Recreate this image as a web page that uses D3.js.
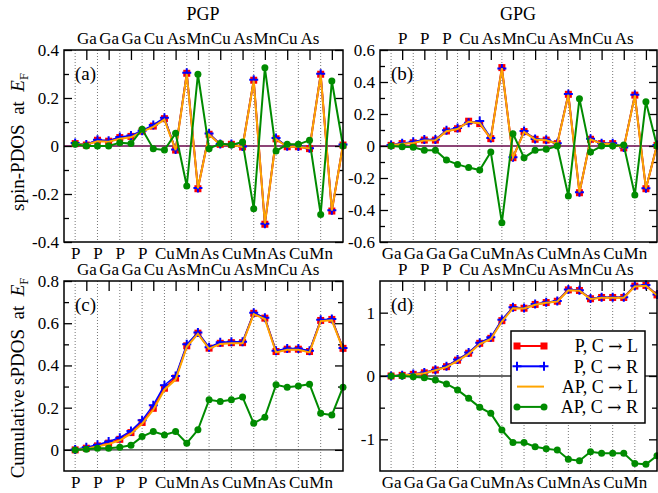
<!DOCTYPE html>
<html>
<head>
<meta charset="utf-8">
<script src="https://cdn.jsdelivr.net/npm/d3@7"></script>
<style>
  body { margin: 0; background: #fff; }
  svg { display: block; font-family: "Liberation Serif", "Times New Roman", serif; }
</style>
</head>
<body>
<div id="chart"></div>
<script>
// site labels along the chain: even sites on the bottom axis, odd sites on the top axis
const pgpEven = ["P", "P", "P", "P", "Cu", "Mn", "As", "Cu", "Mn", "As", "Cu", "Mn"];
const pgpOdd = ["Ga", "Ga", "Ga", "Cu", "As", "Mn", "Cu", "As", "Mn", "Cu", "As"];
const gpgEven = ["Ga", "Ga", "Ga", "Ga", "Cu", "Mn", "As", "Cu", "Mn", "As", "Cu", "Mn"];
const gpgOdd = ["P", "P", "P", "Cu", "As", "Mn", "Cu", "As", "Mn", "Cu", "As"];

// legend: [prefix, target]
const seriesNames = [["P, C ", " L"], ["P, C ", " R"], ["AP, C ", " L"], ["AP, C ", " R"]];

// (a) PGP spin-PDOS
const aPL = [0.01, 0.004, 0.024, 0.02, 0.035, 0.04, 0.062, 0.083, 0.114, -0.017, 0.303, -0.178, 0.049, 0.007, 0.007, -0.004, 0.274, -0.326, 0.03, -0.003, -0.003, -0.011, 0.299, -0.271, 0.004];
const aPR = [0.012, 0.006, 0.026, 0.022, 0.038, 0.044, 0.064, 0.088, 0.118, -0.015, 0.305, -0.175, 0.052, 0.008, 0.008, -0.002, 0.276, -0.324, 0.033, -0.001, -0.002, -0.009, 0.301, -0.268, 0.006];
const aAPL = [0.008, 0.005, 0.02, 0.018, 0.03, 0.036, 0.06, 0.08, 0.11, -0.017, 0.3, -0.176, 0.047, 0.006, 0.006, -0.004, 0.272, -0.323, 0.028, -0.003, -0.003, -0.01, 0.297, -0.269, 0.004];
const aAPR = [0.007, 0.0, 0.0, 0.0, 0.014, 0.01, 0.07, -0.011, -0.017, 0.053, -0.167, 0.299, -0.011, 0.01, 0.004, 0.017, -0.261, 0.326, -0.021, 0.007, 0.007, 0.024, -0.285, 0.271, 0.0];

// (b) GPG spin-PDOS
const bPL = [0.004, 0.015, 0.02, 0.037, 0.037, 0.094, 0.108, 0.155, 0.14, 0.046, 0.49, -0.073, 0.09, 0.042, 0.037, 0.015, 0.323, -0.292, 0.042, 0.015, 0.015, -0.012, 0.318, -0.267, 0.004];
const bPR = [0.006, 0.017, 0.026, 0.04, 0.04, 0.098, 0.112, 0.145, 0.156, 0.05, 0.485, -0.07, 0.093, 0.044, 0.039, 0.017, 0.325, -0.289, 0.045, 0.017, 0.017, -0.01, 0.32, -0.264, 0.006];
const bAPL = [0.003, 0.014, 0.019, 0.035, 0.036, 0.092, 0.106, 0.152, 0.142, 0.045, 0.487, -0.071, 0.088, 0.041, 0.036, 0.014, 0.32, -0.29, 0.041, 0.014, 0.014, -0.012, 0.316, -0.265, 0.004];
const bAPR = [0.0, -0.004, -0.008, -0.027, -0.027, -0.088, -0.115, -0.135, -0.15, -0.038, -0.479, 0.077, -0.073, -0.027, -0.021, 0.0, -0.313, 0.296, -0.038, 0.0, 0.0, 0.006, -0.306, 0.277, 0.0];

// (c) PGP cumulative
const cPL = [0, 0.008, 0.019, 0.032, 0.05, 0.082, 0.13, 0.197, 0.292, 0.34, 0.493, 0.553, 0.482, 0.505, 0.508, 0.508, 0.647, 0.624, 0.466, 0.477, 0.477, 0.466, 0.613, 0.618, 0.481];
const cPR = [0.002, 0.012, 0.024, 0.04, 0.058, 0.09, 0.14, 0.212, 0.306, 0.35, 0.5, 0.556, 0.486, 0.51, 0.512, 0.512, 0.65, 0.626, 0.47, 0.48, 0.48, 0.47, 0.616, 0.62, 0.483];
const cAPL = [0, 0.006, 0.016, 0.028, 0.045, 0.077, 0.124, 0.19, 0.285, 0.333, 0.488, 0.55, 0.479, 0.502, 0.505, 0.505, 0.643, 0.62, 0.462, 0.474, 0.474, 0.462, 0.61, 0.614, 0.478];
const cAPR = [0, 0.003, 0.008, 0.008, 0.013, 0.022, 0.063, 0.087, 0.071, 0.087, 0.032, 0.095, 0.237, 0.229, 0.237, 0.25, 0.126, 0.155, 0.308, 0.297, 0.303, 0.311, 0.173, 0.165, 0.297];

// (d) GPG cumulative
const dPL = [0, 0.01, 0.026, 0.05, 0.095, 0.147, 0.25, 0.36, 0.516, 0.595, 0.874, 1.08, 1.07, 1.13, 1.16, 1.18, 1.36, 1.35, 1.22, 1.24, 1.24, 1.24, 1.42, 1.43, 1.28];
const dPR = [0, 0.012, 0.03, 0.056, 0.1, 0.155, 0.26, 0.37, 0.525, 0.61, 0.89, 1.085, 1.075, 1.135, 1.165, 1.185, 1.365, 1.355, 1.225, 1.245, 1.245, 1.245, 1.425, 1.435, 1.285];
const dAPL = [0, 0.008, 0.022, 0.045, 0.09, 0.14, 0.24, 0.35, 0.505, 0.585, 0.86, 1.07, 1.065, 1.125, 1.155, 1.175, 1.355, 1.345, 1.215, 1.235, 1.235, 1.235, 1.415, 1.425, 1.275];
const dAPR = [0, 0, -0.01, -0.026, -0.063, -0.126, -0.22, -0.353, -0.495, -0.59, -0.853, -1.05, -1.05, -1.116, -1.15, -1.17, -1.316, -1.337, -1.195, -1.22, -1.22, -1.22, -1.38, -1.395, -1.26];

const W = 658, H = 493;
const serif = '"Liberation Serif", "Times New Roman", serif';
const red = "#ff0000", blue = "#0000ff", orange = "#ffa500", green = "#008b00";
const maroon = "#67074a";

const svg = d3.select("#chart").append("svg")
  .attr("width", W)
  .attr("height", H);

const plusPath = "M-4.5,0H4.5M0,-4.5V4.5";

function drawPanel(o) {
  const x = d3.scaleLinear().domain([-1, 24]).range([o.left, o.right]);
  const y = d3.scaleLinear().domain(o.yDomain).range([o.bottom, o.top]);
  const g = svg.append("g");

  // dotted grid at even sites
  g.append("g")
    .selectAll("line")
    .data(d3.range(0, 24, 2))
    .enter()
    .append("line")
    .attr("x1", (d) => x(d))
    .attr("x2", (d) => x(d))
    .attr("y1", o.top)
    .attr("y2", o.bottom)
    .attr("stroke", "#777")
    .attr("stroke-width", 1)
    .attr("stroke-dasharray", "1,2");

  // zero line
  g.append("line")
    .attr("x1", o.left)
    .attr("x2", o.right)
    .attr("y1", y(0))
    .attr("y2", y(0))
    .attr("stroke", o.zeroColor)
    .attr("stroke-width", 1.3);

  // y axes: labels left, ticks both sides
  const fmt = (d) => String(d);
  g.append("g")
    .attr("transform", `translate(${o.left},0)`)
    .call(d3.axisLeft(y).tickValues(o.major).tickSize(-8).tickPadding(5).tickFormat(fmt));
  g.append("g")
    .attr("transform", `translate(${o.left},0)`)
    .call(d3.axisLeft(y).tickValues(o.minor).tickSize(-5).tickFormat(""));
  g.append("g")
    .attr("transform", `translate(${o.right},0)`)
    .call(d3.axisRight(y).tickValues(o.major).tickSize(-8).tickFormat(""));
  g.append("g")
    .attr("transform", `translate(${o.right},0)`)
    .call(d3.axisRight(y).tickValues(o.minor).tickSize(-5).tickFormat(""));

  // top axis: odd sites
  g.append("g")
    .attr("transform", `translate(0,${o.top})`)
    .call(
      d3.axisTop(x)
        .tickValues(d3.range(1, 24, 2))
        .tickSize(-10)
        .tickPadding(6)
        .tickFormat((d) => o.odd[(d - 1) / 2] || "")
    );

  // bottom axis: even sites
  g.append("g")
    .attr("transform", `translate(0,${o.bottom})`)
    .call(
      d3.axisBottom(x)
        .tickValues(d3.range(0, 24, 2))
        .tickSize(0)
        .tickPadding(5)
        .tickFormat((d) => o.even[d / 2] || "")
    );

  g.selectAll(".domain").remove();
  g.selectAll(".tick line").attr("stroke", "#000").attr("stroke-width", 1.3);
  g.selectAll(".tick text")
    .style("font-family", serif)
    .style("font-size", "17px")
    .attr("fill", "#000");

  const line = d3.line()
    .x((d, i) => x(i))
    .y((d) => y(d));

  // P, C -> L
  g.append("path")
    .attr("d", line(o.pl))
    .attr("fill", "none")
    .attr("stroke", red)
    .attr("stroke-width", 2);
  g.append("g")
    .selectAll("rect")
    .data(o.pl)
    .enter()
    .append("rect")
    .attr("x", (d, i) => x(i) - 3.5)
    .attr("y", (d) => y(d) - 3.5)
    .attr("width", 7)
    .attr("height", 7)
    .attr("fill", red);

  // P, C -> R
  g.append("path")
    .attr("d", line(o.pr))
    .attr("fill", "none")
    .attr("stroke", blue)
    .attr("stroke-width", 1.5);
  g.append("g")
    .selectAll("path")
    .data(o.pr)
    .enter()
    .append("path")
    .attr("d", plusPath)
    .attr("transform", (d, i) => `translate(${x(i)},${y(d)})`)
    .attr("stroke", blue)
    .attr("stroke-width", 2);

  // AP, C -> L
  g.append("path")
    .attr("d", line(o.apl))
    .attr("fill", "none")
    .attr("stroke", orange)
    .attr("stroke-width", 2);

  // AP, C -> R
  g.append("path")
    .attr("d", line(o.apr))
    .attr("fill", "none")
    .attr("stroke", green)
    .attr("stroke-width", 2);
  g.append("g")
    .selectAll("circle")
    .data(o.apr)
    .enter()
    .append("circle")
    .attr("cx", (d, i) => x(i))
    .attr("cy", (d) => y(d))
    .attr("r", 3.5)
    .attr("fill", green);

  // frame
  g.append("rect")
    .attr("x", o.left)
    .attr("y", o.top)
    .attr("width", o.right - o.left)
    .attr("height", o.bottom - o.top)
    .attr("fill", "none")
    .attr("stroke", "#000")
    .attr("stroke-width", 1.5);

  // panel letter
  g.append("text")
    .attr("x", o.left + 11)
    .attr("y", o.top + 30)
    .style("font-size", "19px")
    .text(o.tag);
}

drawPanel({
  left: 64, right: 343, top: 50, bottom: 242,
  yDomain: [-0.4, 0.4], major: [-0.4, -0.2, 0, 0.2, 0.4], minor: [-0.3, -0.1, 0.1, 0.3],
  zeroColor: maroon, even: pgpEven, odd: pgpOdd, tag: "(a)",
  pl: aPL, pr: aPR, apl: aAPL, apr: aAPR
});
drawPanel({
  left: 380, right: 657, top: 50, bottom: 242,
  yDomain: [-0.6, 0.6], major: [-0.6, -0.4, -0.2, 0, 0.2, 0.4, 0.6], minor: [-0.5, -0.3, -0.1, 0.1, 0.3, 0.5],
  zeroColor: maroon, even: gpgEven, odd: gpgOdd, tag: "(b)",
  pl: bPL, pr: bPR, apl: bAPL, apr: bAPR
});
drawPanel({
  left: 64, right: 343, top: 281, bottom: 471,
  yDomain: [-0.1, 0.8], major: [0, 0.2, 0.4, 0.6, 0.8], minor: [0.1, 0.3, 0.5, 0.7],
  zeroColor: "#333", even: pgpEven, odd: pgpOdd, tag: "(c)",
  pl: cPL, pr: cPR, apl: cAPL, apr: cAPR
});
drawPanel({
  left: 380, right: 657, top: 281, bottom: 471,
  yDomain: [-1.5, 1.5], major: [-1, 0, 1], minor: [-0.5, 0.5],
  zeroColor: "#333", even: gpgEven, odd: gpgOdd, tag: "(d)",
  pl: dPL, pr: dPR, apl: dAPL, apr: dAPR
});

// column titles
svg.append("text").attr("x", 203).attr("y", 20).attr("text-anchor", "middle").style("font-size", "18px").text("PGP");
svg.append("text").attr("x", 518).attr("y", 20).attr("text-anchor", "middle").style("font-size", "18px").text("GPG");

// y titles
function yTitle(cy, label) {
  const t = svg.append("text")
    .attr("transform", `translate(24,${cy}) rotate(-90)`)
    .attr("text-anchor", "middle")
    .style("font-size", "19px")
    .style("white-space", "pre");
  t.append("tspan").text(label + "  at  ");
  t.append("tspan").style("font-style", "italic").text("E");
  t.append("tspan").style("font-size", "12.5px").attr("dy", 4).text("F");
}
yTitle(142, "spin-PDOS");
yTitle(378, "Cumulative sPDOS");

// serif everywhere (axis groups default to sans-serif)
svg.selectAll("text").style("font-family", serif);

// legend in (d)
const leg = svg.append("g");
leg.append("rect")
  .attr("x", 511).attr("y", 331).attr("width", 134).attr("height", 92)
  .attr("fill", "#fff").attr("stroke", "#000").attr("stroke-width", 1.5);
const legColors = [red, blue, orange, green];
const legRows = leg.selectAll("g.row")
  .data(seriesNames)
  .enter()
  .append("g")
  .attr("class", "row")
  .attr("transform", (d, i) => `translate(0,${346 + i * 20.3})`);
legRows.append("line")
  .attr("x1", 517).attr("x2", 544)
  .attr("stroke", (d, i) => legColors[i])
  .attr("stroke-width", 2);
legRows.each(function (d, i) {
  const r = d3.select(this);
  [517, 544].forEach((lx) => {
    if (i === 0) r.append("rect").attr("x", lx - 3.5).attr("y", -3.5).attr("width", 7).attr("height", 7).attr("fill", red);
    if (i === 1) r.append("path").attr("d", plusPath).attr("transform", `translate(${lx},0)`).attr("stroke", blue).attr("stroke-width", 2);
    if (i === 3) r.append("circle").attr("cx", lx).attr("r", 3.5).attr("fill", green);
  });
});
const legText = legRows.append("text")
  .attr("x", 638)
  .attr("dy", "0.35em")
  .attr("text-anchor", "end")
  .style("font-family", serif)
  .style("font-size", "18px");
legText.append("tspan").text((d) => d[0]);
legText.append("tspan").style("font-family", '"DejaVu Serif", serif').style("font-size", "17px").text("\u2192");
legText.append("tspan").text((d) => d[1]);
</script>
</body>
</html>
